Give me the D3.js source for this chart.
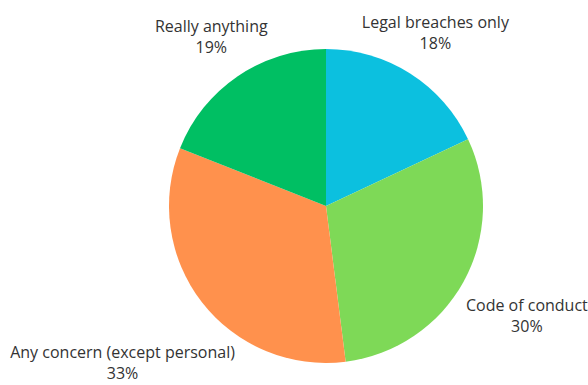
<!DOCTYPE html>
<html>
<head>
<meta charset="utf-8">
<script src="https://cdn.jsdelivr.net/npm/d3@7"></script>
<style>
  html, body { margin: 0; padding: 0; background: #ffffff; }
  svg { display: block; }
  text { font-family: "Open Sans", "Noto Sans", sans-serif; fill: #333333; }
</style>
</head>
<body>
<svg id="chart" width="588" height="385"></svg>
<script>
// Share of respondents by scope of reportable concerns
const categories = ["Legal breaches only", "Code of conduct", "Any concern (except personal)", "Really anything"];
const shares = [18, 30, 33, 19];
const colors = ["#0CC0DF", "#7ED957", "#FF914D", "#00BF63"];
// distance of each label from the centre, relative to the radius
const labelDistance = [1.30, 1.46, 1.64, 1.30];

const width = 588, height = 385;
const cx = 326, cy = 206, radius = 157;

const svg = d3.select("#chart");
const g = svg.append("g").attr("transform", `translate(${cx},${cy})`);

const pie = d3.pie().sort(null).value(d => d.value);
const arcs = pie(categories.map((c, i) => ({ name: c, value: shares[i], i })));
const arc = d3.arc().innerRadius(0).outerRadius(radius);

g.selectAll("path.slice")
  .data(arcs)
  .join("path")
  .attr("class", "slice")
  .attr("d", arc)
  .attr("fill", d => colors[d.data.i]);

const fontSize = 16;
const lineGap = 21;

const labels = g.selectAll("g.label")
  .data(arcs)
  .join("g")
  .attr("class", "label")
  .attr("transform", d => {
    const a = (d.startAngle + d.endAngle) / 2;
    const r = radius * labelDistance[d.data.i];
    return `translate(${Math.sin(a) * r},${-Math.cos(a) * r})`;
  });

labels.append("text")
  .attr("text-anchor", "middle")
  .attr("font-size", fontSize)
  .attr("y", -lineGap / 2 + 5)
  .text(d => d.data.name);

labels.append("text")
  .attr("text-anchor", "middle")
  .attr("font-size", fontSize)
  .attr("y", lineGap / 2 + 5)
  .text(d => d.data.value + "%");
</script>
</body>
</html>
